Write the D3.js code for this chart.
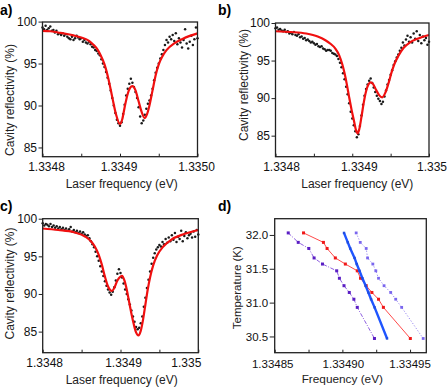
<!DOCTYPE html>
<html><head><meta charset="utf-8">
<script src="https://cdn.jsdelivr.net/npm/d3@7"></script>
<style>body{margin:0;background:#fff}svg{display:block}</style>
</head><body><svg id="c" width="447" height="392"></svg>
<script>
// ---------- DATA ----------
// laser scan offsets, in 1e-6 eV above 1.3348 eV
const scanOffsets = [0,2,4,6,8,10,12,14,16,18,20,22,24,26,28,30,32,34,36,38,40,42,44,46,48,50,52,54,56,58,60,62,64,66,68,70,72,74,76,78,80,82,84,86,88,90,92,94,96,98,100,102,104,106,108,110,112,114,116,118,120,122,124,126,128,130,132,134,136,138,140,142,144,146,148,150,152,154,156,158,160,162,164,166,168,170,172,174,176,178,180,182,184,186,188,190,192,194,196,198,200];
const reflA = [99.3,99.1,99.5,99.0,99.2,99.4,98.9,99.0,98.7,98.9,
  98.5,98.6,98.4,98.6,98.3,98.5,98.2,98.0,97.9,98.2,
  97.8,98.0,98.3,98.1,97.9,98.0,97.6,97.8,97.5,97.4,
  97.6,97.3,97.0,96.9,96.6,96.5,96.2,96.0,95.5,95.0,
  94.6,94.0,93.3,92.6,91.8,90.9,90.0,89.1,88.3,87.9,
  87.6,88.0,89.0,90.1,91.2,92.0,92.6,93.2,92.7,92.2,
  91.6,90.9,89.8,88.7,87.9,88.2,88.9,89.6,90.2,90.6,
  91.2,92.0,93.0,93.9,94.5,95.0,95.6,96.1,96.6,97.2,
  97.8,97.5,98.2,97.9,98.4,97.7,98.6,97.3,98.0,97.5,
  96.9,97.8,99.1,97.4,96.8,97.6,98.3,97.2,97.9,99.3,
  98.0];
const reflB = [99.3,99.4,99.1,99.2,99.0,98.9,99.1,98.8,98.9,98.6,
  98.7,98.5,98.8,98.4,98.3,98.5,98.1,98.2,97.9,98.0,
  97.7,97.8,97.6,97.4,97.5,97.3,97.1,97.2,96.9,96.8,
  96.9,96.6,96.5,96.3,96.4,96.4,96.3,96.0,95.9,95.8,
  95.6,95.2,94.7,94.1,93.3,92.5,91.5,90.5,89.3,88.2,
  87.3,86.4,85.6,84.8,85.2,86.3,87.7,89.1,90.3,91.2,
  91.8,92.3,92.6,92.0,91.4,90.8,90.3,89.9,89.6,89.2,
  89.5,90.2,91.0,91.8,92.4,93.1,93.7,94.4,94.9,95.4,
  95.8,96.3,96.7,97.4,97.0,97.8,98.3,97.5,98.1,97.4,
  98.6,97.9,98.9,97.6,98.4,97.3,98.2,97.7,98.0,97.1,
  97.5];
const reflC = [99.4,99.1,99.3,99.2,99.0,99.3,98.9,99.1,98.8,99.0,
  98.7,98.9,98.6,98.8,98.5,98.7,98.4,98.6,98.9,98.3,
  98.5,98.2,98.4,98.1,98.3,98.0,98.2,97.9,97.7,97.8,
  97.4,97.0,96.6,96.2,95.6,95.0,94.4,93.7,93.0,92.4,
  91.7,91.1,90.6,90.2,89.9,90.3,90.9,91.8,92.7,93.3,
  92.8,92.2,91.4,90.6,90.0,89.3,88.6,87.8,87.0,86.3,
  85.6,85.3,85.5,86.1,87.0,88.3,89.5,90.8,91.9,93.0,
  94.0,94.8,95.4,95.9,96.2,96.5,96.3,96.9,96.6,97.3,
  96.8,97.5,97.0,97.8,97.2,98.1,96.9,97.6,97.3,98.4,
  97.0,97.7,98.2,97.4,97.8,98.0,97.5,98.3,97.6,98.5,
  97.9];
// fitted curves (offsets in 1e-6 eV above 1.3348 eV)
const fitAx = [0,10,20,30,40,50,60,65,70,75,80,85,90,95,100,103,106,110,113,116,120,124,128,132,135,138,142,146,150,155,160,170,180,190,200];
const fitAy = [98.9,98.85,98.7,98.55,98.35,98.1,97.7,97.3,96.8,96.0,94.9,93.2,91.0,88.9,87.8,88.4,89.8,91.4,92.1,92.3,91.8,90.5,89.2,88.5,89.0,90.0,91.8,93.6,94.9,95.9,96.6,97.4,97.9,98.3,98.6];
const fitBx = [0,20,40,55,65,72,78,83,87,90,93,96,99,102,105,107,109,112,115,118,121,124,127,131,135,139,143,147,152,156,160,167,175,185,200];
const fitBy = [98.9,98.8,98.6,98.2,97.7,97.2,96.6,95.7,94.5,93.3,91.8,90.1,88.5,87.1,85.7,85.3,85.8,87.5,89.4,90.9,91.8,92.1,91.9,91.1,90.4,90.1,90.7,91.9,93.7,94.8,95.6,96.7,97.4,97.9,98.4];
const fitCx = [0,20,40,55,62,67,72,76,80,84,87,89,92,96,100,102,105,108,111,114,117,120,123,126,129,132,135,138,142,147,155,165,180,200];
const fitCy = [98.7,98.5,98.2,97.6,97.0,96.3,95.2,93.9,92.3,91.0,90.5,90.4,90.8,91.8,92.3,92.4,91.8,90.6,89.0,87.4,86.0,84.9,84.5,85.1,86.6,88.6,90.6,92.2,93.8,95.1,96.3,97.2,97.9,98.5];
const reflTicks = [85,90,95,100];
const freqTicksABC = [1.3348,1.33485,1.3349,1.33495,1.3350];
const freqLabelsA = ["1.3348","1.3349","1.3350"];
const freqLabelsBC = ["1.3348","1.3349","1.335"];

// panel d
const temperatures = [32.03,31.89,31.80,31.66,31.57,31.47,31.36,31.25,31.15,31.05,30.93,30.47];
const freqPurple = [1.3348600,1.3348674,1.3348752,1.3348791,1.3348853,1.3348958,1.3348978,1.3349012,1.3349051,1.3349085,1.3349110,1.3349237];
const freqRed    = [1.3348713,1.3348860,1.3348887,1.3348948,1.3349022,1.3349110,1.3349134,1.3349176,1.3349218,1.3349267,1.3349303,1.3349502];
const freqBlue   = [1.3349012,1.3349040,1.3349058,1.3349090,1.3349106,1.3349126,1.3349148,1.3349172,1.3349192,1.3349212,1.3349238,1.3349330];
const freqLight  = [1.3349102,1.3349132,1.3349176,1.3349186,1.3349225,1.3349247,1.3349267,1.3349308,1.3349357,1.3349394,1.3349438,1.3349597];
const tempTicks = [30.5,31.0,31.5,32.0];
const freqTicksD = [1.33485,1.334875,1.3349,1.334925,1.33495];
const freqLabelsD = ["1.33485","1.33490","1.33495"];

// ---------- DRAW ----------
const svg = d3.select("#c");
const FONT = '"Liberation Sans", Arial, Helvetica, sans-serif';
const BASE = 1.3348;

function spectrum(p){
  const x = d3.scaleLinear().domain([1.3348,1.3350]).range([p.x0,p.x1]);
  const y = d3.scaleLinear().domain(p.yDom).range([p.y1,p.y0]);
  const g = svg.append("g").attr("font-family",FONT);
  const pts = scanOffsets.map((o,i)=>[BASE+o*1e-6, p.data[i]]);
  g.selectAll("circle.d").data(pts).join("circle").attr("class","d")
    .attr("cx",d=>x(d[0])).attr("cy",d=>y(d[1])).attr("r",1.25).attr("fill","#1a1a1a");
  const fit = p.fx.map((o,i)=>[BASE+o*1e-6, p.fy[i]]);
  g.append("path").datum(fit)
    .attr("d", d3.line().x(d=>x(d[0])).y(d=>y(d[1])).curve(d3.curveMonotoneX))
    .attr("fill","none").attr("stroke","#f01010").attr("stroke-width",2.2);
  // y axis
  const ya = g.append("g").attr("transform",`translate(${p.x0},0)`)
    .call(d3.axisLeft(y).tickValues(reflTicks).tickSize(4).tickPadding(1.5).tickFormat(d3.format("d")));
  ya.select(".domain").remove();
  ya.selectAll("text").attr("font-size",12).attr("fill","#111").attr("font-family",FONT);
  ya.selectAll("line").attr("stroke","#222").attr("stroke-width",1);
  // x axis inward ticks
  const xa = g.append("g").attr("transform",`translate(0,${p.y1})`)
    .call(d3.axisBottom(x).tickValues(freqTicksABC).tickSize(-3).tickFormat(""));
  xa.select(".domain").remove();
  xa.selectAll("line").attr("stroke","#222").attr("stroke-width",1);
  const labVals = [1.3348,1.3349,1.3350];
  g.selectAll("text.xl").data(p.labels).join("text").attr("class","xl")
    .attr("x",(d,i)=>x(labVals[i])+p.ldx[i]).attr("y",p.y1+14.3)
    .attr("text-anchor","middle").attr("font-size",12).attr("fill","#111").text(d=>d);
  // box
  g.append("rect").attr("x",p.x0).attr("y",p.y0).attr("width",p.x1-p.x0).attr("height",p.y1-p.y0)
    .attr("fill","none").attr("stroke","#222").attr("stroke-width",1.3);
  g.append("text").attr("x",p.xtx).attr("y",p.xty).attr("text-anchor","middle")
    .attr("font-size",12).attr("fill","#222").text("Laser frequency (eV)");
  g.append("text").attr("transform",`translate(${p.ytx},${p.yty}) rotate(-90)`).attr("text-anchor","middle")
    .attr("dy","0.35em").attr("font-size",12).attr("fill","#222").text("Cavity reflectivity (%)");
  g.append("text").attr("x",p.px).attr("y",p.py).attr("font-size",14).attr("font-weight","bold")
    .attr("fill","#000").text(p.tag);
}

spectrum({x0:42.5,x1:197.5,y0:22,y1:156.7,yDom:[83.9,99.95],data:reflA,fx:fitAx,fy:fitAy,
  labels:freqLabelsA,ldx:[4,-1,-1],xtx:121.7,xty:188.3,ytx:10,yty:100,px:0,py:15,tag:"a)"});
spectrum({x0:275.5,x1:429,y0:23,y1:156.7,yDom:[82.2,100],data:reflB,fx:fitBx,fy:fitBy,
  labels:freqLabelsBC,ldx:[6,7,3],xtx:357.3,xty:188.3,ytx:244,yty:85,px:218,py:15,tag:"b)"});
spectrum({x0:42.7,x1:198.3,y0:218.7,y1:352.7,yDom:[82.2,100],data:reflC,fx:fitCx,fy:fitCy,
  labels:freqLabelsBC,ldx:[2,3,-12],xtx:121.7,xty:384.3,ytx:10,yty:283.5,px:0,py:211.3,tag:"c)"});

// panel d
(function(){
  const x0=274.7,x1=426.3,y0=218.7,y1=352.7;
  const x = d3.scaleLinear().domain([1.33485,1.334962]).range([x0,x1]);
  const y = d3.scaleLinear().domain([30.26,32.24]).range([y1,y0]);
  const g = svg.append("g").attr("font-family",FONT);
  const series = [
    {f:freqPurple, line:"#8e5fe0", mark:"#5a1ec4", w:1, dash:"4,1.5,1,1.5", r:1.5},
    {f:freqRed, line:"#ff4a4a", mark:"#f01818", w:1, dash:null, r:1.5},
    {f:freqBlue, line:"#1f55ff", mark:"#1f4de0", w:2.4, dash:null, r:1.2},
    {f:freqLight, line:"#9a8af2", mark:"#7a66ee", w:1, dash:"1.2,1.8", r:1.4}
  ];
  const line = d3.line().x(d=>x(d[0])).y(d=>y(d[1]));
  series.forEach(s=>{
    const pts = s.f.map((f,i)=>[f,temperatures[i]]);
    const p = g.append("path").datum(pts).attr("d",line).attr("fill","none")
      .attr("stroke",s.line).attr("stroke-width",s.w);
    if(s.dash) p.attr("stroke-dasharray",s.dash);
    g.append("g").selectAll("rect").data(pts).join("rect")
      .attr("x",d=>x(d[0])-s.r).attr("y",d=>y(d[1])-s.r).attr("width",2*s.r).attr("height",2*s.r)
      .attr("fill",s.mark);
  });
  const ya = g.append("g").attr("transform",`translate(${x0},0)`)
    .call(d3.axisLeft(y).tickValues(tempTicks).tickSize(5).tickPadding(1.5).tickFormat(d3.format(".1f")));
  ya.select(".domain").remove();
  ya.selectAll("text").attr("font-size",11.5).attr("fill","#111").attr("font-family",FONT);
  ya.selectAll("line").attr("stroke","#222");
  const xa = g.append("g").attr("transform",`translate(0,${y1})`)
    .call(d3.axisBottom(x).tickValues(freqTicksD).tickSize(-3).tickFormat(""));
  xa.select(".domain").remove();
  xa.selectAll("line").attr("stroke","#222");
  const labVals=[1.33485,1.3349,1.33495];
  g.selectAll("text.xl").data(freqLabelsD).join("text").attr("class","xl")
    .attr("x",(d,i)=>x(labVals[i])+[-2,1,0][i]).attr("y",y1+15.6).attr("text-anchor","middle")
    .attr("font-size",11.5).attr("fill","#111").text(d=>d);
  g.append("rect").attr("x",x0).attr("y",y0).attr("width",x1-x0).attr("height",y1-y0)
    .attr("fill","none").attr("stroke","#222").attr("stroke-width",1.3);
  g.append("text").attr("x",342.3).attr("y",382.7).attr("text-anchor","middle")
    .attr("font-size",11.8).attr("fill","#222").text("Frequency (eV)");
  g.append("text").attr("transform","translate(237,287.7) rotate(-90)").attr("text-anchor","middle")
    .attr("dy","0.35em").attr("font-size",11.5).attr("fill","#222").text("Temperature (K)");
  g.append("text").attr("x",218).attr("y",211.3).attr("font-size",14).attr("font-weight","bold")
    .attr("fill","#000").text("d)");
})();
</script></body></html>
